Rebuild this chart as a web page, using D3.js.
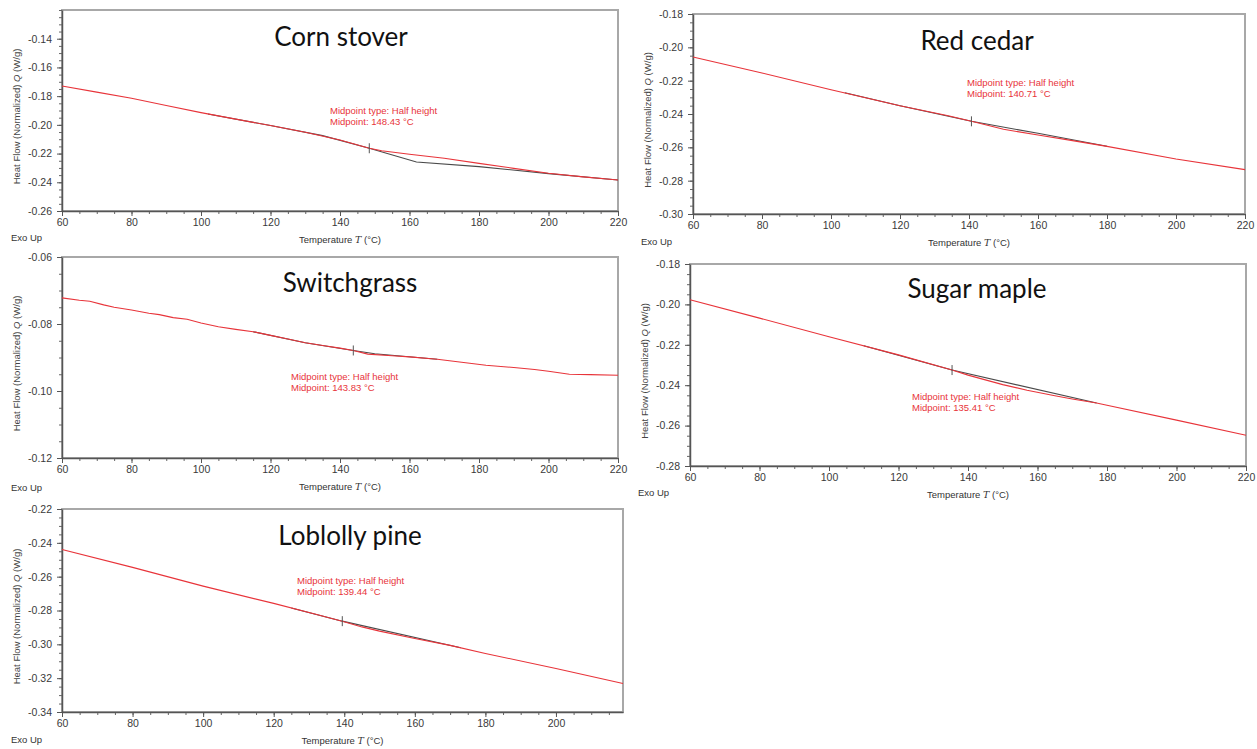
<!DOCTYPE html>
<html>
<head>
<meta charset="utf-8">
<script src="https://cdn.jsdelivr.net/npm/d3@7"></script>
<style>
body{margin:0;background:#fff;}
svg{display:block;}
.tick text{font-family:"Liberation Sans",Arial,sans-serif;}
</style>
</head>
<body>
<div id="plot"></div>
<script>
//Data, one set per panel
var panelNames = ["Corn stover","Red cedar","Switchgrass","Sugar maple","Loblolly pine"];
var midpoints = [148.43,140.71,143.83,135.41,139.44];

var yDomains = [[-0.26,-0.12],[-0.30,-0.18],[-0.12,-0.06],[-0.28,-0.18],[-0.34,-0.22]];
var yTicks = [
	[-0.26,-0.24,-0.22,-0.20,-0.18,-0.16,-0.14],
	[-0.30,-0.28,-0.26,-0.24,-0.22,-0.20,-0.18],
	[-0.12,-0.10,-0.08,-0.06],
	[-0.28,-0.26,-0.24,-0.22,-0.20,-0.18],
	[-0.34,-0.32,-0.30,-0.28,-0.26,-0.24,-0.22]
];
var xDomains = [[60,220],[60,220],[60,220],[60,220],[60,219]];
var xTicks = [
	[60,80,100,120,140,160,180,200,220],
	[60,80,100,120,140,160,180,200,220],
	[60,80,100,120,140,160,180,200,220],
	[60,80,100,120,140,160,180,200,220],
	[60,80,100,120,140,160,180,200]
];

//heat flow curves (red) : [T, Q]
var cornRed = [[60,-0.1729],[70,-0.1772],[80,-0.1815],[90,-0.1865],[100,-0.1915],[110,-0.1960],[120,-0.2005],[130,-0.2052],[140,-0.2105],[148.43,-0.2163],[152,-0.2180],[160,-0.2205],[170,-0.2233],[180,-0.2268],[190,-0.2303],[200,-0.2337],[210,-0.2362],[220,-0.2384]];
var cedarRed = [[60,-0.2058],[80,-0.2154],[100,-0.2254],[120,-0.2350],[134,-0.2410],[140.71,-0.2444],[150,-0.2492],[160,-0.2526],[170,-0.2560],[180,-0.2594],[200,-0.2670],[220,-0.2734]];
var switchRed = [[60,-0.0722],[65,-0.0729],[68,-0.0732],[72,-0.0743],[75,-0.0750],[80,-0.0758],[85,-0.0768],[88,-0.0772],[92,-0.0781],[96,-0.0786],[100,-0.0797],[105,-0.0808],[110,-0.0816],[115,-0.0823],[120,-0.0834],[125,-0.0845],[130,-0.0856],[135,-0.0864],[140,-0.0872],[143.83,-0.0879],[148,-0.0890],[155,-0.0895],[160,-0.0898],[168,-0.0905],[175,-0.0914],[182,-0.0923],[190,-0.0930],[196,-0.0936],[200,-0.0941],[206,-0.0950],[212,-0.0951],[220,-0.0953]];
var mapleRed = [[60,-0.1977],[80,-0.2068],[100,-0.2160],[120,-0.2250],[135.41,-0.2325],[140,-0.2350],[150,-0.2397],[157,-0.2425],[165,-0.2452],[170,-0.2468],[177,-0.2488],[180,-0.2499],[200,-0.2573],[220,-0.2648]];
var pineRed = [[60,-0.2439],[80,-0.2545],[100,-0.2656],[120,-0.2758],[133,-0.2828],[139.44,-0.2863],[145,-0.2897],[150,-0.2922],[160,-0.2966],[170,-0.3006],[180,-0.3054],[200,-0.3143],[219,-0.3232]];

//tangent / baseline construction (dark)
var cornBlack = [[102,-0.1924],[120,-0.2005],[135,-0.2075],[148.43,-0.2163],[162,-0.2259],[180,-0.2291],[200,-0.2340],[220,-0.2384]];
var cedarBlack = [[104,-0.2273],[120,-0.2350],[140.71,-0.2444],[160,-0.2516],[180,-0.2594]];
var switchBlack = [[115,-0.0823],[130,-0.0856],[143.83,-0.0879],[150,-0.0889],[168,-0.0905]];
var mapleBlack = [[110,-0.2205],[135.41,-0.2325],[177,-0.2488]];
var pineBlack = [[125,-0.2785],[139.44,-0.2863],[173,-0.3020]];

var redCurves = [cornRed,cedarRed,switchRed,mapleRed,pineRed];
var blackCurves = [cornBlack,cedarBlack,switchBlack,mapleBlack,pineBlack];

//layout of each panel on the page
var boxes = [
	{l:62, r:618, t:10, b:211, ann:[330,114], title:[341,46], exo:[11,241]},
	{l:693, r:1245, t:14, b:214, ann:[967,86], title:[977,50], exo:[641,245]},
	{l:62, r:618, t:257, b:458, ann:[291,380], title:[350,292], exo:[11,491]},
	{l:690, r:1246, t:264, b:466, ann:[912,400], title:[977,298], exo:[638,496]},
	{l:62, r:623, t:509, b:712, ann:[297,584], title:[350,545], exo:[11,743]}
];

var svg = d3.select('#plot')
	.append('svg')
	.attr('width',1257)
	.attr('height',749);

var redColor = '#e8343a';
//plain hyphen minus, as in the instrument software
var fmtY = function(d){return d3.format('.2f')(d).replace('\u2212','-');};

boxes.forEach(function(box,i){

	var x = d3.scaleLinear().domain(xDomains[i]).range([box.l,box.r]);
	var y = d3.scaleLinear().domain(yDomains[i]).range([box.b,box.t]);

	var g = svg.append('g');

	//frame
	g.append('rect')
		.attr('x',box.l).attr('y',box.t)
		.attr('width',box.r-box.l).attr('height',box.b-box.t)
		.style('fill','#fff')
		.style('stroke','#a8a8a8')
		.style('stroke-width',2);

	//minor ticks
	var xMinor = d3.range(xDomains[i][0],xDomains[i][1]+0.1,5);
	var yMinor = d3.range(0,Math.round((yDomains[i][1]-yDomains[i][0])/0.005)+1).map(function(k){return yDomains[i][0]+k*0.005;});
	g.append('g')
		.attr('transform','translate(0,'+box.b+')')
		.call(d3.axisBottom(x).tickValues(xMinor).tickSize(3).tickFormat(''))
		.call(function(a){a.select('.domain').remove(); a.selectAll('line').style('stroke','#666');});
	g.append('g')
		.attr('transform','translate('+box.l+',0)')
		.call(d3.axisLeft(y).tickValues(yMinor).tickSize(3).tickFormat(''))
		.call(function(a){a.select('.domain').remove(); a.selectAll('line').style('stroke','#666');});

	//major axes
	var xa = g.append('g')
		.attr('transform','translate(0,'+box.b+')')
		.call(d3.axisBottom(x).tickValues(xTicks[i]).tickSize(5).tickSizeOuter(0).tickPadding(3).tickFormat(d3.format('d')));
	var ya = g.append('g')
		.attr('transform','translate('+box.l+',0)')
		.call(d3.axisLeft(y).tickValues(yTicks[i]).tickSize(5).tickSizeOuter(0).tickPadding(5).tickFormat(fmtY));
	[xa,ya].forEach(function(a){
		a.select('.domain').style('stroke','#555').style('stroke-width',1.5);
		a.selectAll('line').style('stroke','#555');
		a.selectAll('text').style('font-size','10.5px').style('fill','#3a3a3a');
	});
	//top label hidden by the frame, as in the reference
	ya.selectAll('.tick').filter(function(d){return Math.abs(d-yDomains[i][1])<1e-9 && i==0;}).remove();

	var line = d3.line()
		.x(function(d){return x(d[0]);})
		.y(function(d){return y(d[1]);});

	g.append('path')
		.datum(blackCurves[i])
		.attr('d',line)
		.style('fill','none')
		.style('stroke','#4a4a4a')
		.style('stroke-width',1.1);

	g.append('path')
		.datum(redCurves[i])
		.attr('d',line)
		.style('fill','none')
		.style('stroke',redColor)
		.style('stroke-width',1.1);

	//midpoint marker
	var mq = redCurves[i].filter(function(d){return d[0]==midpoints[i];})[0][1];
	g.append('line')
		.attr('x1',x(midpoints[i])).attr('x2',x(midpoints[i]))
		.attr('y1',y(mq)-5).attr('y2',y(mq)+5)
		.style('stroke','#555')
		.style('stroke-width',1);

	//annotation
	var ann = g.append('text')
		.attr('x',box.ann[0]).attr('y',box.ann[1])
		.style('font-family','"Liberation Sans",Arial,sans-serif')
		.style('font-size','9.5px')
		.style('fill',redColor);
	ann.append('tspan').text('Midpoint type: Half height');
	ann.append('tspan').attr('x',box.ann[0]).attr('dy',11).text('Midpoint: '+midpoints[i].toFixed(2)+' \u00b0C');

	//panel title
	g.append('text')
		.attr('x',box.title[0]).attr('y',box.title[1])
		.attr('text-anchor','middle')
		.style('font-family','Lato, "Open Sans", sans-serif')
		.style('font-size','26px')
		.style('fill','#111')
		.text(panelNames[i]);

	//axis titles
	var xt = g.append('text')
		.attr('x',(box.l+box.r)/2).attr('y',box.b+32)
		.attr('text-anchor','middle')
		.style('font-family','"Liberation Sans",Arial,sans-serif')
		.style('font-size','9.5px')
		.style('fill','#333');
	xt.append('tspan').text('Temperature ');
	xt.append('tspan').style('font-style','italic').style('font-family','"DejaVu Serif",serif').text('T');
	xt.append('tspan').text(' (\u00b0C)');

	var yt = g.append('text')
		.attr('transform','translate('+(box.l-42)+','+((box.t+box.b)/2+6)+') rotate(-90)')
		.attr('text-anchor','middle')
		.style('font-family','"Liberation Sans",Arial,sans-serif')
		.style('font-size','9.5px')
		.style('fill','#444');
	yt.append('tspan').text('Heat Flow (Normalized)  ');
	yt.append('tspan').style('font-style','italic').text('Q');
	yt.append('tspan').text('  (W/g)');

	g.append('text')
		.attr('x',box.exo[0]).attr('y',box.exo[1])
		.style('font-family','"Liberation Sans",Arial,sans-serif')
		.style('font-size','9.5px')
		.style('fill','#333')
		.text('Exo Up');
});
</script>
</body>
</html>
